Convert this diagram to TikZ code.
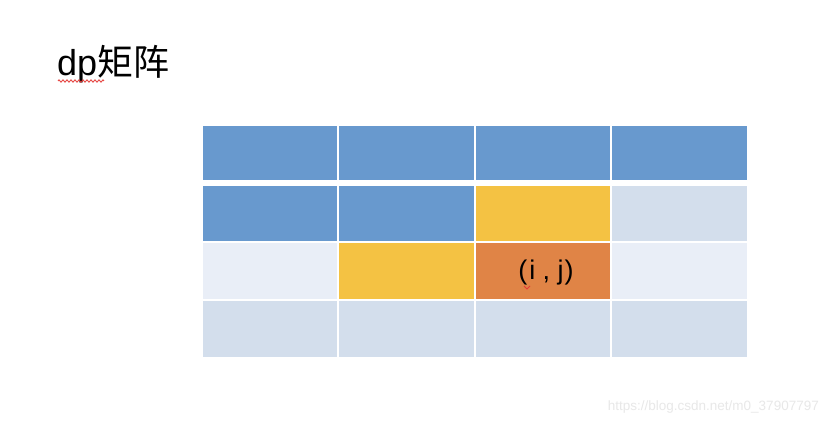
\documentclass[tikz,border=0pt]{standalone}
\usepackage{fontspec}
\setmainfont{Liberation Sans}
\newfontfamily\cjk{Noto Sans CJK SC}
\usetikzlibrary{decorations.pathmorphing}
\definecolor{cblue}{HTML}{6899CE}
\definecolor{cyellow}{HTML}{F4C243}
\definecolor{corange}{HTML}{E08446}
\definecolor{clight}{HTML}{D3DEEC}
\definecolor{clighter}{HTML}{E9EEF7}
\definecolor{cwm}{HTML}{E8E8E8}
\definecolor{cred}{HTML}{E53935}
\begin{document}
\begin{tikzpicture}[x=1pt,y=-1pt,
  cell/.style={fill=#1,draw=none},
  squiggle/.style={draw=cred,line width=0.8pt,decorate,decoration={zigzag,segment length=4pt,amplitude=1.2pt}}]
\useasboundingbox (0,0) rectangle (832,422);
\fill[white] (0,0) rectangle (832,422);
% row 1
\path[cell=cblue] (203,126) rectangle (337,180);
\path[cell=cblue] (339,126) rectangle (474,180);
\path[cell=cblue] (476,126) rectangle (610,180);
\path[cell=cblue] (612,126) rectangle (747,180);
% row 2
\path[cell=cblue] (203,186) rectangle (337,241);
\path[cell=cblue] (339,186) rectangle (474,241);
\path[cell=cyellow] (476,186) rectangle (610,241);
\path[cell=clight] (612,186) rectangle (747,241);
% row 3
\path[cell=clighter] (203,243) rectangle (337,299);
\path[cell=cyellow] (339,243) rectangle (474,299);
\path[cell=corange] (476,243) rectangle (610,299);
\path[cell=clighter] (612,243) rectangle (747,299);
% row 4
\path[cell=clight] (203,301) rectangle (337,357);
\path[cell=clight] (339,301) rectangle (474,357);
\path[cell=clight] (476,301) rectangle (610,357);
\path[cell=clight] (612,301) rectangle (747,357);
% texts
\node[anchor=base west,inner sep=0pt,font=\fontsize{36}{40}\selectfont] (title) at (57,76) {dp{\cjk 矩阵}};
\node[inner sep=0pt,font=\fontsize{27}{32}\selectfont] (ij) at (546,273) {(\kern2pt i , j\kern1pt)};
\node[anchor=base east,inner sep=0pt,text=cwm,font=\fontsize{13.5}{15}\selectfont] (wm) at (819,410) {https://blog.csdn.net/m0\_37907797};
% spell-check marks
\draw[squiggle] (58,81) -- (104,81);
\draw[cred,line width=0.8pt] (524,286) -- (527,289) -- (530,286);
\end{tikzpicture}
\end{document}
